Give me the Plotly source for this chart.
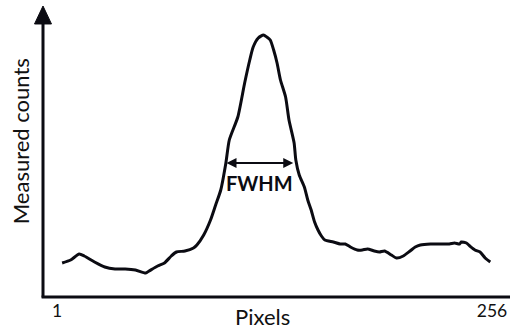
import plotly.graph_objects as go

# Detector profile: pixel index vs. measured counts (arbitrary units)
pixels = [
    4, 9, 14, 17, 23, 29, 35, 41, 47, 53,
    55, 60, 64, 68, 71, 76, 81, 83, 87, 91,
    94, 97, 100, 102, 107, 111, 114, 116, 119, 122,
    124, 126, 128, 130, 132, 135, 137, 140, 141, 143,
    146, 148, 150, 152, 154, 156, 158, 163, 167, 170,
    173, 177, 180, 183, 187, 190, 193, 197, 200, 204,
    208, 211, 214, 220, 226, 231, 234, 237, 238, 241,
    243, 246, 249, 252, 255,
]
counts = [
    330, 360, 420, 400, 340, 290, 270, 270, 260, 230,
    250, 300, 330, 400, 440, 450, 480, 510, 610, 760,
    910, 1060, 1330, 1560, 1790, 2130, 2360, 2490, 2580, 2610,
    2590, 2560, 2460, 2330, 2160, 1990, 1760, 1530, 1360, 1210,
    1090, 960, 860, 740, 660, 600, 560, 540, 520, 520,
    490, 460, 460, 470, 450, 440, 450, 410, 380, 400,
    450, 490, 510, 520, 520, 520, 530, 520, 540, 530,
    500, 460, 440, 380, 340,
]

# Axis tick labels
tick_vals = [1, 256]
tick_text = ["1", "256"]

# Full width at half maximum marker
fwhm_level = 1330
fwhm_left = 99.5
fwhm_right = 139.5
fwhm_label_y = 1130

FONT = "Lato, 'Open Sans', sans-serif"
INK = "#0b0b12"

fig = go.Figure()
fig.add_trace(go.Scatter(
    x=pixels, y=counts, mode="lines",
    line=dict(color=INK, width=3, shape="spline", smoothing=0.6),
    hoverinfo="skip", showlegend=False,
))

# Double-headed FWHM arrow and label
fig.add_annotation(
    x=fwhm_right, y=fwhm_level, ax=fwhm_left, ay=fwhm_level,
    xref="x", yref="y", axref="x", ayref="y",
    text="", showarrow=True, arrowhead=2, startarrowhead=2,
    arrowside="end+start", arrowsize=1, startarrowsize=1,
    arrowwidth=2, arrowcolor=INK,
)
fig.add_annotation(
    x=(fwhm_left + fwhm_right) / 2, y=fwhm_label_y, xref="x", yref="y",
    text="<b>FWHM</b>", showarrow=False, xanchor="center",
    font=dict(family=FONT, size=20, color=INK),
)

# Axis titles
fig.add_annotation(
    x=0.469, y=-0.072, xref="paper", yref="paper",
    text="Pixels", showarrow=False, xanchor="center", yanchor="middle",
    font=dict(family=FONT, size=22, color="#111"),
)
fig.add_annotation(
    x=-0.049, y=0.534, xref="paper", yref="paper",
    text="Measured counts", showarrow=False, textangle=-90,
    xanchor="center", yanchor="middle",
    font=dict(family=FONT, size=22, color="#111"),
)

# Axis lines with arrowhead on the vertical axis
fig.add_shape(type="line", xref="paper", yref="paper",
              x0=0, x1=0, y0=-0.005, y1=0.94,
              line=dict(color=INK, width=3))
fig.add_shape(type="line", xref="paper", yref="paper",
              x0=-0.003, x1=1.0, y0=-0.0035, y1=-0.0035,
              line=dict(color=INK, width=3))
fig.add_shape(type="path", xref="paper", yref="paper",
              path="M 0 1 L -0.0182 0.938 L 0.0182 0.938 Z",
              fillcolor=INK, line=dict(color=INK, width=1))

fig.update_layout(
    width=510, height=329,
    margin=dict(l=43, r=0, t=6, b=33),
    paper_bgcolor="white", plot_bgcolor="white",
    xaxis=dict(
        range=[-7.207, 266.552], tickvals=tick_vals, ticktext=tick_text,
        showgrid=False, zeroline=False, showline=False, ticks="",
        ticklabelstandoff=2,
        tickfont=dict(family=FONT, size=17.5, color="#111"),
        fixedrange=True,
    ),
    yaxis=dict(
        range=[0, 2900], showticklabels=False, showgrid=False,
        zeroline=False, showline=False, ticks="", fixedrange=True,
    ),
)

fig.write_html("out.html")
